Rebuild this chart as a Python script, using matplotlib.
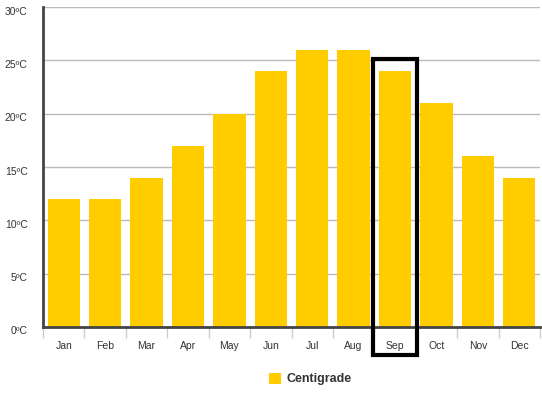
import matplotlib.pyplot as plt
from matplotlib.patches import Rectangle
from matplotlib.transforms import ScaledTranslation

plt.rcParams['font.family'] = ['Liberation Sans', 'DejaVu Sans']

months = ['Jan', 'Feb', 'Mar', 'Apr', 'May', 'Jun', 'Jul', 'Aug', 'Sep', 'Oct', 'Nov', 'Dec']
temps = [12, 12, 14, 17, 20, 24, 26, 26, 24, 21, 16, 14]
y_ticks = [0, 5, 10, 15, 20, 25, 30]
highlight = 'Sep'

fig = plt.figure(figsize=(5.42, 3.93), dpi=100)
ax = fig.add_axes([43 / 542, 1 - 327 / 393, 497 / 542, 320 / 393])

x = list(range(len(months)))
bars = ax.bar(x, temps, width=0.78, color='#FFCC00', label='Centigrade', zorder=2)

ax.set_xlim(-0.5, len(months) - 0.5)
ax.set_ylim(0, 30)
ax.set_yticks(y_ticks)
ax.set_yticklabels([f'{t}ºC' for t in y_ticks], fontsize=7.5, color='#333333')
ax.yaxis.grid(True, color='#BBBBBB', linewidth=1, zorder=0)
ax.tick_params(axis='y', length=0, pad=11)
# labels sit a little below their gridline
shift = ScaledTranslation(0, -3.5 / 100, fig.dpi_scale_trans)
for lbl in ax.get_yticklabels():
    lbl.set_transform(lbl.get_transform() + shift)

# month labels centred, tick marks between categories
ax.set_xticks(x)
ax.set_xticklabels(months, fontsize=7.5, color='#333333')
ax.tick_params(axis='x', length=0, pad=10)
ax.set_xticks([i - 0.5 for i in range(len(months) + 1)], minor=True)
ax.tick_params(axis='x', which='minor', length=8, color='#CCCCCC', width=1)

for side in ['top', 'right']:
    ax.spines[side].set_visible(False)
ax.spines['left'].set_color('#444444')
ax.spines['left'].set_linewidth(2)
ax.spines['bottom'].set_color('#444444')
ax.spines['bottom'].set_linewidth(2)
ax.spines['bottom'].set_zorder(3)

# highlight box around the selected month
i = months.index(highlight)
rect = Rectangle((i - 0.53, -2.6), 1.06, 27.7, fill=False, edgecolor='black',
                 linewidth=3, clip_on=False, zorder=5)
ax.add_patch(rect)

leg = fig.legend(handles=[bars], labels=['Centigrade'], loc='center',
                 bbox_to_anchor=(310 / 542, 1 - 379 / 393), frameon=False,
                 handlelength=1.0, handleheight=1.0, handletextpad=0.4,
                 prop={'size': 9, 'weight': 'bold'})
for t in leg.get_texts():
    t.set_color('#333333')

fig.savefig('out.png', dpi=100)
